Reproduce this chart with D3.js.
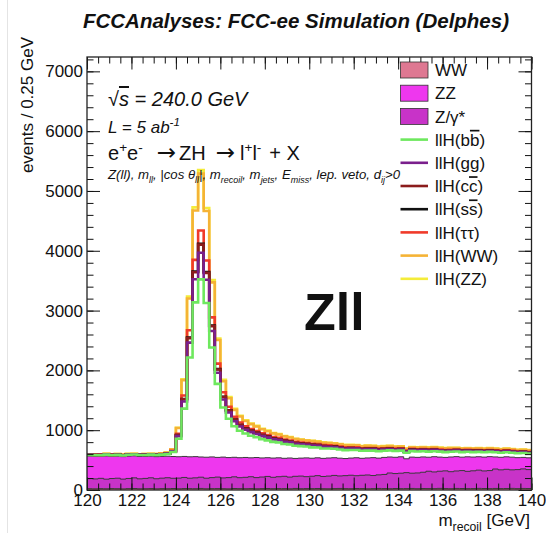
<!DOCTYPE html>
<html><head><meta charset="utf-8">
<script src="https://cdn.jsdelivr.net/npm/d3@7"></script>
<style>
html,body{margin:0;padding:0;background:#fff;}
svg{display:block;font-family:"Liberation Sans", Arial, Helvetica, sans-serif;}
</style></head>
<body><svg id="c" width="546" height="533"></svg>
<script>
// ---------------- data ----------------
const xStart = 120, binWidth = 0.25;           // m_recoil binning [GeV]
const xTicksMajor = [120,122,124,126,128,130,132,134,136,138,140];
const yTicksMajor = [0,1000,2000,3000,4000,5000,6000,7000];

// backgrounds (events / bin)
const bkgWW = [
 22,20,23,21,24,22,19,23,25,21, 22,24,20,23,22,25,21,24,23,22,
 26,21,23,24,22,20,25,23,22,24, 21,23,25,22,24,23,21,26,22,24,
 23,25,22,21,24,26,23,22,25,24, 21,23,26,24,22,25,23,24,26,22,
 25,24,23,27,24,22,26,25,23,24, 27,25,23,26,24,25,27,23,26,25];
const bkgZgamma = [
 170,165,172,160,168,175,163,170,178,166, 172,180,168,175,183,171,178,186,174,181,
 188,176,184,192,180,187,195,183,190,198, 186,194,202,190,198,206,195,203,211,199,
 207,215,204,212,220,209,217,225,214,222, 230,219,227,236,262,250,258,266,255,263,
 272,290,279,287,296,284,292,300,289,297, 305,294,302,325,313,321,310,318,327,316];
const bkgZZ = [
 376,375,370,389,370,369,376,374,368,373, 369,362,370,364,360,364,357,351,358,355,
 338,351,346,329,348,335,327,334,332,316, 336,319,313,322,316,301,319,299,300,314,
 301,298,303,302,296,297,286,287,300,284, 285,299,280,285,268,272,274,232,269,261,
 256,234,255,236,225,246,240,224,243,230, 224,231,233,202,210,209,212,200,192,197];

// signal llH, by Higgs decay
const sigBB = [
 18,20,17,22,19,21,20,23,22,24, 23,26,27,30,38,75,300,800,1660,2580,
 2970,2580,1830,1230,830,650,520,450,400,370, 340,315,290,270,255,240,225,212,200,190,
 182,172,165,158,150,145,140,135,130,126, 122,118,115,112,110,107,104,102,100,98,
 96,94,92,91,89,88,86,85,84,82, 81,80,79,78,77,76,75,74,73,72];
const sigGG = [
 3,3,2,4,3,3,3,4,3,4, 4,4,4,5,6,11,45,120,249,387,
 446,387,275,185,133,104,83,72,64,59, 54,50,46,43,41,38,36,34,32,30,
 31,29,28,27,26,25,24,23,22,21, 22,21,21,20,20,19,19,18,18,18,
 18,18,17,17,17,17,16,16,16,16, 16,16,16,16,15,15,15,15,15,14];
const sigCC = [
 1,1,1,1,1,1,1,1,1,1, 1,1,1,2,2,3,14,36,75,116,
 134,116,82,55,42,33,26,23,20,19, 17,16,15,14,13,12,11,11,10,10,
 10,9,9,9,8,8,8,7,7,7, 7,7,7,6,6,6,6,6,6,6,
 6,6,6,5,5,5,5,5,5,5, 5,5,5,5,5,5,5,4,4,4];
const sigSS = [
 0,0,0,0,0,0,0,0,0,0, 0,0,0,0,0,0,2,4,8,13,
 15,13,9,6,5,4,3,3,2,2, 2,2,2,2,2,1,1,1,1,1,
 2,2,2,1,1,1,1,1,1,1, 1,1,1,1,1,1,1,1,1,1,
 1,1,1,1,1,1,1,1,1,1, 1,1,1,1,1,1,1,1,1,1];
const sigTauTau = [
 2,2,2,2,2,2,2,2,2,2, 2,2,2,3,3,6,23,60,125,194,
 223,194,137,92,75,59,47,41,36,33, 31,28,26,24,23,22,20,19,18,17,
 18,17,17,16,16,16,15,15,14,14, 15,14,14,13,13,13,12,12,12,12,
 12,12,12,12,12,11,11,11,11,11, 11,11,11,11,11,11,10,10,10,10];
const sigWW = [
 6,6,5,6,6,7,6,6,7,7, 7,7,8,9,12,24,96,256,531,826,
 950,826,586,394,183,143,114,99,88,81, 75,69,64,59,56,53,50,47,44,42,
 44,41,40,38,36,36,35,34,33,32, 34,33,32,31,31,30,29,29,28,27,
 29,28,28,27,27,26,26,26,25,25, 27,26,26,26,25,25,25,24,24,24];
const sigZZ = [
 1,1,1,1,1,1,1,1,1,1, 1,1,1,1,1,2,6,16,33,52,
 59,52,37,25,25,20,16,14,12,11, 10,9,9,8,8,7,7,6,6,6,
 6,6,6,5,5,5,5,5,5,5, 5,5,5,5,5,5,5,5,5,5,
 5,5,5,5,5,5,4,4,4,4, 4,4,4,4,4,4,4,4,4,4];

const bkgColors = {WW:"#de7892", ZZ:"#ee37ee", Zg:"#c833c8"};
const sigNames = ["bb","gg","cc","ss","tautau","WW","ZZ"];
const sigColors = ["#6ee85e","#7a1f8c","#8b1c1c","#111111","#f03a2a","#f5b335","#f4ec3a"];

// ---------------- layout ----------------
const svg = d3.select("#c");
const fr = {l:87, r:531.5, t:57, b:490};
const nBins = sigBB.length;
const edges = d3.range(nBins + 1).map(i => xStart + i * binWidth);
const x = d3.scaleLinear().domain([120, 140]).range([fr.l, fr.r]);
const y = d3.scaleLinear().domain([0, 7240]).range([fr.b, fr.t]);

svg.append("line").attr("x1",7.5).attr("x2",7.5).attr("y1",0).attr("y2",533)
   .attr("stroke","#e4e4e4").attr("stroke-width",1);

// cumulative stack
const layers = [bkgWW, bkgZgamma, bkgZZ, sigBB, sigGG, sigCC, sigSS, sigTauTau, sigWW, sigZZ];
const cum = [];
let run = new Array(nBins).fill(0);
layers.forEach(arr => { run = run.map((v,i) => v + arr[i]); cum.push(run.slice()); });
const pts = vals => edges.map((e,i) => ({e, v: vals[Math.min(i, nBins-1)]}));

svg.append("clipPath").attr("id","fc").append("rect")
  .attr("x",fr.l).attr("y",fr.t).attr("width",fr.r-fr.l).attr("height",fr.b-fr.t);
const plot = svg.append("g").attr("clip-path","url(#fc)");

const area = d3.area().x(d => x(d.e)).y0(y(0)).y1(d => y(d.v)).curve(d3.curveStepAfter);
const line = d3.line().x(d => x(d.e)).y(d => y(d.v)).curve(d3.curveStepAfter);

// backgrounds drawn as cumulative fills, largest first
[[2, bkgColors.ZZ],[1, bkgColors.Zg],[0, bkgColors.WW]].forEach(([k,col]) => {
  plot.append("path").attr("d", area(pts(cum[k]))).attr("fill", col).attr("stroke","none");
  plot.append("path").attr("d", line(pts(cum[k]))).attr("fill","none")
      .attr("stroke","#3a3a3a").attr("stroke-width",1);
});
// signal lines, outermost first
for (let s = sigNames.length - 1; s >= 0; s--) {
  plot.append("path").attr("d", line(pts(cum[3+s]))).attr("fill","none")
      .attr("stroke", sigColors[s]).attr("stroke-width",2.6);
}

// ---------------- axes ----------------
const xMinor = d3.range(120, 140.01, 0.5);
const yMinor = d3.range(0, 7201, 200);
function styleAxis(g){ g.select(".domain").remove(); g.selectAll("line").attr("stroke","#111").attr("stroke-width",1);
  g.attr("font-family",null).attr("font-size",17).selectAll("text").attr("fill","#111"); }

svg.append("g").attr("transform",`translate(0,${fr.b})`)
  .call(d3.axisBottom(x).tickValues(xMinor).tickFormat("").tickSizeInner(-6.5).tickSizeOuter(0)).call(styleAxis);
svg.append("g").attr("transform",`translate(0,${fr.b})`)
  .call(d3.axisBottom(x).tickValues(xTicksMajor).tickFormat(d3.format("d")).tickSizeInner(-12.5).tickSizeOuter(0).tickPadding(4)).call(styleAxis);
svg.append("g").attr("transform",`translate(0,${fr.t})`)
  .call(d3.axisTop(x).tickValues(xMinor).tickFormat("").tickSizeInner(-6.5).tickSizeOuter(0)).call(styleAxis);
svg.append("g").attr("transform",`translate(0,${fr.t})`)
  .call(d3.axisTop(x).tickValues(xTicksMajor).tickFormat("").tickSizeInner(-12.5).tickSizeOuter(0)).call(styleAxis);
svg.append("g").attr("transform",`translate(${fr.l},0)`)
  .call(d3.axisLeft(y).tickValues(yMinor).tickFormat("").tickSizeInner(-6.5).tickSizeOuter(0)).call(styleAxis);
svg.append("g").attr("transform",`translate(${fr.l},0)`)
  .call(d3.axisLeft(y).tickValues(yTicksMajor).tickFormat(d3.format("d")).tickSizeInner(-13).tickSizeOuter(0).tickPadding(4)).call(styleAxis);
svg.append("g").attr("transform",`translate(${fr.r},0)`)
  .call(d3.axisRight(y).tickValues(yMinor).tickFormat("").tickSizeInner(-6.5).tickSizeOuter(0)).call(styleAxis);
svg.append("g").attr("transform",`translate(${fr.r},0)`)
  .call(d3.axisRight(y).tickValues(yTicksMajor).tickFormat("").tickSizeInner(-13).tickSizeOuter(0)).call(styleAxis);

svg.append("rect").attr("x",fr.l).attr("y",fr.t).attr("width",fr.r-fr.l).attr("height",fr.b-fr.t)
  .attr("fill","none").attr("stroke","#222").attr("stroke-width",1.3);

// ---------------- text ----------------
function rich(xp, yp, parts, size, opts = {}) {
  const t = svg.append("text").attr("x", xp).attr("y", yp).attr("font-size", size).attr("fill","#111");
  if (opts.italic) t.attr("font-style","italic");
  if (opts.bold) t.attr("font-weight","bold");
  if (opts.anchor) t.attr("text-anchor", opts.anchor);
  if (opts.transform) t.attr("transform", opts.transform);
  let shift = 0;
  parts.forEach(p => {
    const ts = t.append("tspan").text(p.t);
    const target = p.sub ? size*0.32 : (p.sup ? -size*0.42 : 0);
    if (target !== shift) ts.attr("dy", target - shift);
    shift = target;
    if (p.dx) ts.attr("dx", p.dx);
    if (p.sub || p.sup) ts.attr("font-size", size*(p.k || 0.68));
    if (p.fs) ts.attr("font-size", p.fs);
    if (p.font) ts.attr("font-family", p.font);
    if (p.over) ts.style("text-decoration","overline");
  });
  return t;
}

rich(296, 27.5, [{t:"FCCAnalyses: FCC-ee Simulation (Delphes)"}], 20.5, {bold:true, italic:true, anchor:"middle"});
rich(108, 106, [{t:"\u221a"},{t:"s", over:true},{t:" = 240.0 GeV"}], 20, {italic:true});
rich(108, 133, [{t:"L = 5 ab"},{t:"-1", sup:true}], 17, {italic:true});
rich(108, 160, [{t:"e"},{t:"+",sup:true},{t:"e"},{t:"-",sup:true},
  {t:"\u2192", font:"DejaVu Sans", fs:23, dx:14},{t:"ZH", dx:3},{t:"\u2192", font:"DejaVu Sans", fs:23, dx:10},
  {t:"l", dx:5},{t:"+",sup:true},{t:"l"},{t:"-",sup:true},{t:"+ X", dx:8}], 20);
rich(108, 179, [{t:"Z(ll), m"},{t:"ll",sub:true},{t:", |cos \u03b8"},{t:"ll",sub:true},{t:"|, m"},{t:"recoil",sub:true},
  {t:", m"},{t:"jets",sub:true},{t:", E"},{t:"miss",sub:true},{t:", lep. veto, d"},{t:"ij",sub:true},{t:">0"}], 13.2, {italic:true});
rich(304, 330, [{t:"Zll"}], 52, {bold:true});

rich(33, 37, [{t:"events / 0.25 GeV"}], 17, {anchor:"end", transform:"rotate(-90,33,37)"});
rich(530, 526, [{t:"m"},{t:"recoil",sub:true,k:0.72},{t:" [GeV]"}], 17, {anchor:"end"});

// legend
const legRows = [
  {type:"box", color:bkgColors.WW, parts:[{t:"WW"}]},
  {type:"box", color:bkgColors.ZZ, parts:[{t:"ZZ"}]},
  {type:"box", color:bkgColors.Zg, parts:[{t:"Z/\u03b3*"}]},
  {type:"line", color:sigColors[0], parts:[{t:"llH(b"},{t:"b",over:true},{t:")"}]},
  {type:"line", color:sigColors[1], parts:[{t:"llH(gg)"}]},
  {type:"line", color:sigColors[2], parts:[{t:"llH(c"},{t:"c",over:true},{t:")"}]},
  {type:"line", color:sigColors[3], parts:[{t:"llH(s"},{t:"s",over:true},{t:")"}]},
  {type:"line", color:sigColors[4], parts:[{t:"llH(\u03c4\u03c4)"}]},
  {type:"line", color:sigColors[5], parts:[{t:"llH(WW)"}]},
  {type:"line", color:sigColors[6], parts:[{t:"llH(ZZ)"}]}
];
legRows.forEach((r,i) => {
  const cy = 70 + i*23.2;
  if (r.type === "box") {
    svg.append("rect").attr("x",400.5).attr("y",cy-8).attr("width",27.5).attr("height",16)
      .attr("fill", r.color).attr("stroke","#333").attr("stroke-width",0.8);
  } else {
    svg.append("line").attr("x1",400.5).attr("x2",428).attr("y1",cy).attr("y2",cy)
      .attr("stroke", r.color).attr("stroke-width",2.6);
  }
  rich(435, cy+6.2, r.parts, 17);
});
</script>
</body></html>
